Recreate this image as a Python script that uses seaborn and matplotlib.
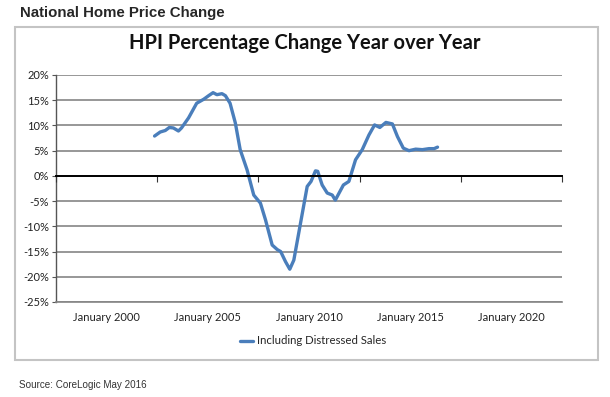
import numpy as np
import pandas as pd
import seaborn as sns
import matplotlib.pyplot as plt
from matplotlib.patches import Rectangle

# 数据 (decimal year, % change year over year)
dates = [2002.37, 2002.65, 2002.9, 2003.1, 2003.3, 2003.55, 2003.7, 2004.05, 2004.45,
         2004.8, 2005.04, 2005.26, 2005.45, 2005.7, 2005.87, 2006.1, 2006.36, 2006.6,
         2006.94, 2007.27, 2007.6, 2007.85, 2008.18, 2008.43, 2008.6, 2008.84, 2009.05,
         2009.25, 2009.58, 2009.91, 2010.1, 2010.32, 2010.43, 2010.65, 2010.9, 2011.15,
         2011.3, 2011.7, 2011.97, 2012.3, 2012.63, 2012.96, 2013.24, 2013.5, 2013.8,
         2014.12, 2014.37, 2014.66, 2014.94, 2015.27, 2015.6, 2015.93, 2016.18, 2016.35]
hpi_change = [7.9, 8.7, 9.0, 9.6, 9.5, 8.9, 9.5, 11.5, 14.4,
              15.2, 15.9, 16.5, 16.1, 16.3, 15.9, 14.4, 10.5, 5.2,
              1.2, -3.8, -5.4, -8.7, -13.7, -14.6, -15.0, -17.0, -18.5,
              -16.7, -9.4, -2.1, -1.1, 1.0, 0.9, -1.8, -3.4, -3.8,
              -4.8, -1.8, -1.1, 3.2, 5.2, 8.1, 10.1, 9.6, 10.6,
              10.3, 7.8, 5.5, 5.0, 5.3, 5.2, 5.4, 5.4, 5.7]
label_years = [2000, 2005, 2010, 2015, 2020]
x_labels = ['January 2000', 'January 2005', 'January 2010', 'January 2015', 'January 2020']
y_ticks = [-25, -20, -15, -10, -5, 0, 5, 10, 15, 20]
series_name = 'Including Distressed Sales'

df = pd.DataFrame({'date': dates, 'hpi': hpi_change})

sns.set_style('white')
plt.rcParams['font.family'] = ['Lato', 'DejaVu Sans']

fig = plt.figure(figsize=(6.10, 3.97), dpi=100)
ax = fig.add_axes([56 / 610, 1 - 302 / 397, 506 / 610, 227 / 397])

sns.lineplot(data=df, x='date', y='hpi', ax=ax, color='#4a7ebb', linewidth=2.4,
             label=series_name, legend=False)

x_min, x_max = 1997.5, 2022.5
ax.set_xlim(x_min, x_max)
ax.set_ylim(-25, 20)
ax.set_yticks(y_ticks)
ax.set_yticklabels([f'{v}%' for v in y_ticks], fontsize=8, color='#222222')
ax.set_xticks(label_years)
ax.set_xticklabels(x_labels, fontsize=8, color='#222222')
ax.tick_params(axis='x', length=0, pad=7)
ax.tick_params(axis='y', length=3, width=0.8, color='#555555', pad=2, left=True, direction='out')
ax.set_xlabel('')
ax.set_ylabel('')
ax.grid(axis='y', color='#858585', linewidth=1.2)
ax.grid(axis='x', visible=False)
for s in ['top', 'right']:
    ax.spines[s].set_visible(False)
ax.spines['bottom'].set_color('#858585')
ax.spines['bottom'].set_linewidth(1.2)
ax.spines['left'].set_color('#555555')
ax.spines['left'].set_linewidth(1.0)

# horizontal axis crossing at 0 with tick marks between the categories
ax2 = ax.twiny()
ax2.set_xlim(x_min, x_max)
for s in ['top', 'right', 'left']:
    ax2.spines[s].set_visible(False)
ax2.spines['bottom'].set_position(('data', 0))
ax2.spines['bottom'].set_color('black')
ax2.spines['bottom'].set_linewidth(1.4)
ax2.xaxis.set_ticks_position('bottom')
ax2.set_xticks(np.arange(x_min, x_max + 1, 5))
ax2.set_xticklabels([])
ax2.tick_params(axis='x', length=4, width=0.8, color='#333333', direction='out')
ax2.grid(False)

# chart frame
fig.patches.append(Rectangle((15 / 610, 1 - 360 / 397), 583 / 610, 333 / 397,
                             transform=fig.transFigure, fill=False,
                             edgecolor='#c4c4c4', linewidth=1.5))

fig.text(305 / 610, 1 - 43 / 397, 'HPI Percentage Change Year over Year',
         ha='center', va='center', fontsize=14.5, fontweight='bold', color='#111111')
fig.text(20 / 610, 1 - 13 / 397, 'National Home Price Change', ha='left', va='center',
         fontsize=10.8, fontweight='bold', family=['Liberation Sans', 'DejaVu Sans'])
fig.text(19 / 610, 1 - 385 / 397, 'Source: CoreLogic May 2016', ha='left', va='center',
         fontsize=7.1, color='#333333', family=['Liberation Sans', 'DejaVu Sans'])

handles, labels = ax.get_legend_handles_labels()
fig.legend(handles, labels, loc='center', bbox_to_anchor=(313 / 610, 1 - 341 / 397),
           frameon=False, fontsize=8.2, handlelength=1.2, handletextpad=0.3)

fig.savefig('out.png', dpi=100)
